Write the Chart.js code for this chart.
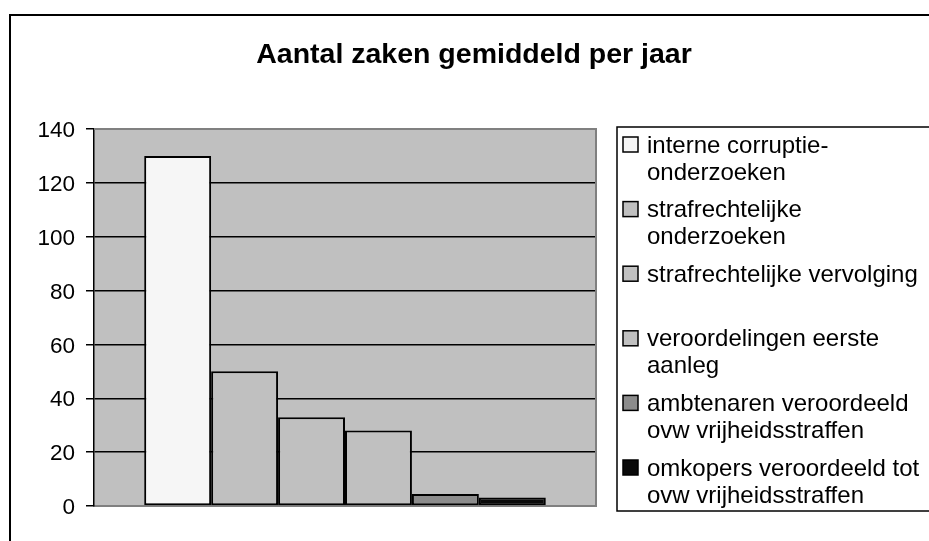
<!DOCTYPE html>
<html>
<head>
<meta charset="utf-8">
<script src="https://cdn.jsdelivr.net/npm/chart.js@4/dist/chart.umd.min.js"></script>
<style>
  html, body { margin: 0; padding: 0; background: #fff; }
  #wrap { width: 929px; height: 541px; }
</style>
</head>
<body>
<div id="wrap"><canvas id="chart"></canvas></div>
<script>
/* ===================== DATA ===================== */
const title = "Aantal zaken gemiddeld per jaar";
const categories = [""];
const seriesNames = [
  ["interne corruptie-", "onderzoeken"],
  ["strafrechtelijke", "onderzoeken"],
  ["strafrechtelijke vervolging"],
  ["veroordelingen eerste", "aanleg"],
  ["ambtenaren veroordeeld", "ovw vrijheidsstraffen"],
  ["omkopers veroordeeld tot", "ovw vrijheidsstraffen"]
];
const seriesValues = [130, 50, 33, 28, 4.5, 3.2];
const seriesColors = ["#f6f6f6", "#c0c0c0", "#c0c0c0", "#c0c0c0", "#8c8c8c", "#0a0a0a"];
const yTicks = [0, 20, 40, 60, 80, 100, 120, 140];

const FONT = "'Liberation Sans', Arial, sans-serif";
Chart.defaults.font.family = FONT;
Chart.defaults.color = "#000";

/* ===================== PLUGINS ===================== */
const frame = {
  id: "frame",
  beforeDraw(chart) {
    const { ctx, chartArea: a } = chart;
    ctx.save();
    ctx.fillStyle = "#fff";
    ctx.fillRect(0, 0, chart.width, chart.height);
    // outer chart border (runs off the right and bottom)
    ctx.strokeStyle = "#000";
    ctx.lineWidth = 2;
    ctx.strokeRect(10, 15, chart.width + 20, chart.height + 20);
    // plot area
    ctx.fillStyle = "#c0c0c0";
    ctx.fillRect(a.left, a.top, a.right - a.left, a.bottom - a.top);
    ctx.restore();
  },
  beforeDatasetsDraw(chart) {
    const { ctx, chartArea: a } = chart;
    ctx.save();
    ctx.strokeStyle = "#808080";
    ctx.lineWidth = 2;
    ctx.beginPath();
    ctx.moveTo(a.left, a.top);
    ctx.lineTo(a.right, a.top);
    ctx.lineTo(a.right, a.bottom);
    ctx.stroke();
    ctx.restore();
  },
  afterDraw(chart) {
    const { ctx } = chart;
    ctx.save();
    // title
    ctx.fillStyle = "#000";
    ctx.font = "bold 28.5px " + FONT;
    ctx.textAlign = "center";
    ctx.textBaseline = "alphabetic";
    ctx.fillText(title, 474, 63);

    // legend box
    ctx.strokeStyle = "#000";
    ctx.lineWidth = 1.5;
    ctx.strokeRect(617, 127, 340, 384);

    ctx.font = "24px " + FONT;
    ctx.textAlign = "left";
    ctx.textBaseline = "middle";
    chart.data.datasets.forEach((ds, i) => {
      const y = 146 + i * 64.6;
      ctx.fillStyle = ds.backgroundColor;
      ctx.fillRect(623, y - 9, 15, 15);
      ctx.strokeStyle = "#000";
      ctx.lineWidth = 1.5;
      ctx.strokeRect(623, y - 9, 15, 15);
      ctx.fillStyle = "#000";
      seriesNames[i].forEach((line, j) => ctx.fillText(line, 647, y + j * 27));
    });
    ctx.restore();
  }
};

/* ===================== CHART ===================== */
new Chart(document.getElementById("chart"), {
  type: "bar",
  data: {
    labels: categories,
    datasets: seriesNames.map((n, i) => ({
      label: n.join(" "),
      data: [seriesValues[i]],
      backgroundColor: seriesColors[i],
      borderColor: "#000",
      borderWidth: 2,
      borderSkipped: false,
      categoryPercentage: 0.8,
      barPercentage: 1.0
    }))
  },
  options: {
    responsive: true,
    maintainAspectRatio: false,
    animation: false,
    layout: { padding: { left: 0, top: 129, right: 333, bottom: 35 } },
    plugins: {
      legend: { display: false },
      title: { display: false },
      tooltip: { enabled: false }
    },
    scales: {
      x: {
        ticks: { display: false },
        grid: { display: false },
        border: { color: "#808080", width: 2 },
        afterFit: s => { s.height = 0; }
      },
      y: {
        min: 0,
        max: 140,
        afterFit: s => { s.width = 94; },
        afterBuildTicks: s => { s.ticks = yTicks.map(v => ({ value: v })); },
        ticks: { font: { size: 22.5 }, color: "#000", padding: 11, labelOffset: 2 },
        grid: {
          color: c => (c.tick && (c.tick.value === 0 || c.tick.value === 140)) ? "rgba(0,0,0,0)" : "#000",
          lineWidth: 1.5,
          tickColor: "#000",
          tickWidth: 1.5,
          tickLength: 8
        },
        border: { color: "#000", width: 1.5 }
      }
    }
  },
  plugins: [frame]
});
</script>
</body>
</html>
